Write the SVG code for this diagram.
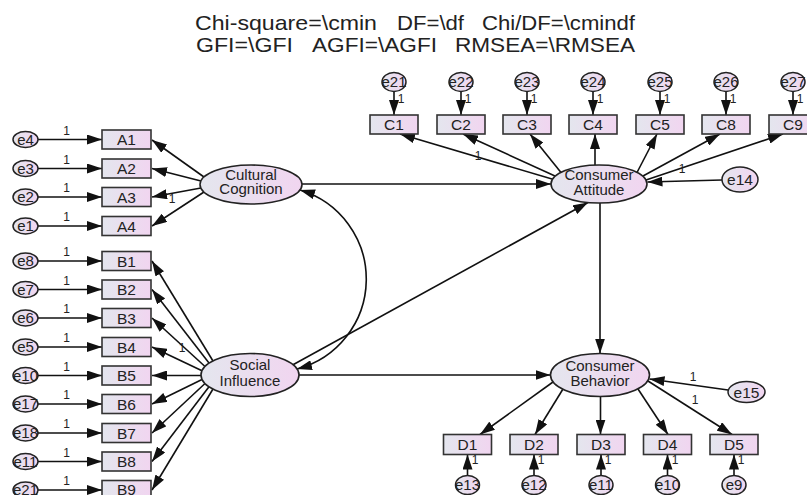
<svg xmlns="http://www.w3.org/2000/svg" width="807" height="495" viewBox="0 0 807 495">
<defs>
<linearGradient id="g" x1="0" y1="0" x2="1" y2="0">
<stop offset="0" stop-color="#e4e6ee"/>
<stop offset="1" stop-color="#f1d5f0"/>
</linearGradient>
<marker id="ah" markerUnits="userSpaceOnUse" markerWidth="15" markerHeight="10" viewBox="0 0 15 10" refX="15" refY="5" orient="auto-start-reverse">
<path d="M0,0 L15,5 L0,10 z" fill="#111"/>
</marker>
</defs>
<style>
text{font-family:"Liberation Sans",Arial,sans-serif;fill:#222}
.box{fill:url(#g);stroke:#333;stroke-width:1.6}
.lat{fill:url(#g);stroke:#222;stroke-width:1.6}
.err{fill:url(#g);stroke:#222;stroke-width:1.5}
.bt{font-size:15.5px;text-anchor:middle}
.lt{font-size:15px;text-anchor:middle}
.et{font-size:15px;text-anchor:middle}
.one{font-size:12px;text-anchor:middle}
.title{font-size:21px}
#connectors line,#connectors path{stroke:#111;stroke-width:1.6;fill:none;marker-end:url(#ah)}
</style>
<rect width="807" height="495" fill="#fff"/>
<g id="title">
<text class="title" x="195" y="30" textLength="182" lengthAdjust="spacingAndGlyphs">Chi-square=\cmin</text>
<text class="title" x="397" y="30" textLength="67" lengthAdjust="spacingAndGlyphs">DF=\df</text>
<text class="title" x="482" y="30" textLength="153" lengthAdjust="spacingAndGlyphs">Chi/DF=\cmindf</text>
<text class="title" x="196" y="52" textLength="97" lengthAdjust="spacingAndGlyphs">GFI=\GFI</text>
<text class="title" x="312" y="52" textLength="125" lengthAdjust="spacingAndGlyphs">AGFI=\AGFI</text>
<text class="title" x="455" y="52" textLength="180" lengthAdjust="spacingAndGlyphs">RMSEA=\RMSEA</text>
</g>
<g id="connectors">
<line x1="38" y1="139.5" x2="102" y2="139.5"/>
<line x1="38" y1="168.5" x2="102" y2="168.5"/>
<line x1="38" y1="197" x2="102" y2="197"/>
<line x1="38" y1="226" x2="102" y2="226"/>
<line x1="38" y1="261" x2="102" y2="261"/>
<line x1="38" y1="289.5" x2="102" y2="289.5"/>
<line x1="38" y1="318" x2="102" y2="318"/>
<line x1="38" y1="347" x2="102" y2="347"/>
<line x1="38" y1="375.5" x2="102" y2="375.5"/>
<line x1="38" y1="404" x2="102" y2="404"/>
<line x1="38" y1="433" x2="102" y2="433"/>
<line x1="38" y1="461.5" x2="102" y2="461.5"/>
<line x1="38" y1="490" x2="102" y2="490"/>
<line x1="204" y1="177" x2="152" y2="140"/>
<line x1="201" y1="181" x2="152" y2="168.5"/>
<line x1="201" y1="188" x2="152" y2="197"/>
<line x1="204" y1="192" x2="152" y2="226"/>
<line x1="213" y1="361" x2="152" y2="261"/>
<line x1="209" y1="363" x2="152" y2="289.5"/>
<line x1="205" y1="366.5" x2="152" y2="318"/>
<line x1="202" y1="370.7" x2="152" y2="347"/>
<line x1="201" y1="375.5" x2="152" y2="375.5"/>
<line x1="202" y1="379.5" x2="152" y2="404"/>
<line x1="205" y1="383.5" x2="152" y2="433"/>
<line x1="209" y1="386.8" x2="152" y2="461.5"/>
<line x1="213" y1="389" x2="152" y2="490"/>
<line x1="302" y1="184" x2="551" y2="184"/>
<line x1="293" y1="364.7" x2="588" y2="202.5"/>
<line x1="299" y1="375" x2="550.5" y2="375"/>
<line x1="600" y1="203" x2="600" y2="353.5"/>
<path d="M300,190 A93,93 0 0 1 297,369" style="marker-start:url(#ah)"/>
<line x1="722" y1="180" x2="647.5" y2="182"/>
<line x1="728" y1="390" x2="649.5" y2="379"/>
<line x1="552" y1="179" x2="400" y2="134"/>
<line x1="555" y1="176" x2="463" y2="134"/>
<line x1="561" y1="172.5" x2="530" y2="134"/>
<line x1="595" y1="165" x2="595" y2="134"/>
<line x1="637" y1="172.5" x2="657" y2="134"/>
<line x1="643" y1="176" x2="720" y2="134"/>
<line x1="646" y1="180" x2="783" y2="134"/>
<line x1="394" y1="91.5" x2="394" y2="115"/>
<line x1="461" y1="91.5" x2="461" y2="115"/>
<line x1="527" y1="91.5" x2="527" y2="115"/>
<line x1="593" y1="91.5" x2="593" y2="115"/>
<line x1="660" y1="91.5" x2="660" y2="115"/>
<line x1="726" y1="91.5" x2="726" y2="115"/>
<line x1="793" y1="91.5" x2="793" y2="115"/>
<line x1="553" y1="382" x2="480" y2="434.5"/>
<line x1="563" y1="389" x2="535" y2="434.5"/>
<line x1="600.5" y1="396.5" x2="600.5" y2="434.5"/>
<line x1="638" y1="389" x2="668" y2="434.5"/>
<line x1="648" y1="381" x2="732" y2="434.5"/>
<line x1="467.5" y1="475.5" x2="467.5" y2="454.5"/>
<line x1="534" y1="475.5" x2="534" y2="454.5"/>
<line x1="601" y1="475.5" x2="601" y2="454.5"/>
<line x1="667.5" y1="475.5" x2="667.5" y2="454.5"/>
<line x1="734" y1="475.5" x2="734" y2="454.5"/>
</g>
<g id="labels-1">
<text class="one" x="66.5" y="134.5">1</text>
<text class="one" x="66.5" y="163.5">1</text>
<text class="one" x="66.5" y="192">1</text>
<text class="one" x="66.5" y="221">1</text>
<text class="one" x="66.5" y="256">1</text>
<text class="one" x="66.5" y="284.5">1</text>
<text class="one" x="66.5" y="313">1</text>
<text class="one" x="66.5" y="342">1</text>
<text class="one" x="66.5" y="370.5">1</text>
<text class="one" x="66.5" y="399">1</text>
<text class="one" x="66.5" y="428">1</text>
<text class="one" x="66.5" y="456.5">1</text>
<text class="one" x="66.5" y="485">1</text>
<text class="one" x="172" y="203">1</text>
<text class="one" x="182" y="352">1</text>
<text class="one" x="478" y="160">1</text>
<text class="one" x="682" y="173">1</text>
<text class="one" x="401" y="103">1</text>
<text class="one" x="468" y="103">1</text>
<text class="one" x="534" y="103">1</text>
<text class="one" x="600" y="103">1</text>
<text class="one" x="667" y="103">1</text>
<text class="one" x="733" y="103">1</text>
<text class="one" x="800" y="103">1</text>
<text class="one" x="475" y="464">1</text>
<text class="one" x="541" y="464">1</text>
<text class="one" x="608" y="464">1</text>
<text class="one" x="675" y="464">1</text>
<text class="one" x="741" y="464">1</text>
<text class="one" x="693" y="381">1</text>
<text class="one" x="695" y="404">1</text>
</g>
<g id="CulturalCognition"><ellipse class="lat" cx="251" cy="184.5" rx="51" ry="19.5"/><text class="lt" x="251" y="179.5">Cultural</text><text class="lt" x="251" y="194">Cognition</text></g>
<g id="SocialInfluence"><ellipse class="lat" cx="250" cy="375" rx="49" ry="21.5"/><text class="lt" x="250" y="370">Social</text><text class="lt" x="250" y="385.5">Influence</text></g>
<g id="ConsumerAttitude"><ellipse class="lat" cx="599" cy="184" rx="48" ry="19"/><text class="lt" x="599" y="180">Consumer</text><text class="lt" x="599" y="195">Attitude</text></g>
<g id="ConsumerBehavior"><ellipse class="lat" cx="600" cy="375" rx="49.5" ry="21.5"/><text class="lt" x="600" y="370.5">Consumer</text><text class="lt" x="600" y="386">Behavior</text></g>
<g id="A1"><rect class="box" x="102" y="130" width="49" height="19"/><text class="bt" x="126.5" y="145">A1</text></g>
<g id="A2"><rect class="box" x="102" y="159" width="49" height="19"/><text class="bt" x="126.5" y="174">A2</text></g>
<g id="A3"><rect class="box" x="102" y="187.5" width="49" height="19"/><text class="bt" x="126.5" y="202.5">A3</text></g>
<g id="A4"><rect class="box" x="102" y="216.5" width="49" height="19"/><text class="bt" x="126.5" y="231.5">A4</text></g>
<g id="B1"><rect class="box" x="102" y="251.5" width="49" height="19"/><text class="bt" x="126.5" y="266.5">B1</text></g>
<g id="B2"><rect class="box" x="102" y="280" width="49" height="19"/><text class="bt" x="126.5" y="295">B2</text></g>
<g id="B3"><rect class="box" x="102" y="308.5" width="49" height="19"/><text class="bt" x="126.5" y="323.5">B3</text></g>
<g id="B4"><rect class="box" x="102" y="337.5" width="49" height="19"/><text class="bt" x="126.5" y="352.5">B4</text></g>
<g id="B5"><rect class="box" x="102" y="366" width="49" height="19"/><text class="bt" x="126.5" y="381">B5</text></g>
<g id="B6"><rect class="box" x="102" y="394.5" width="49" height="19"/><text class="bt" x="126.5" y="409.5">B6</text></g>
<g id="B7"><rect class="box" x="102" y="423.5" width="49" height="19"/><text class="bt" x="126.5" y="438.5">B7</text></g>
<g id="B8"><rect class="box" x="102" y="452" width="49" height="19"/><text class="bt" x="126.5" y="467">B8</text></g>
<g id="B9"><rect class="box" x="102" y="480.5" width="49" height="19"/><text class="bt" x="126.5" y="495">B9</text></g>
<g id="e4"><ellipse class="err" cx="25.5" cy="139.5" rx="12.5" ry="8"/><text class="et" x="25.5" y="144.5">e4</text></g>
<g id="e3"><ellipse class="err" cx="25.5" cy="168.5" rx="12.5" ry="8"/><text class="et" x="25.5" y="173.5">e3</text></g>
<g id="e2"><ellipse class="err" cx="25.5" cy="197" rx="12.5" ry="8"/><text class="et" x="25.5" y="202">e2</text></g>
<g id="e1"><ellipse class="err" cx="25.5" cy="226" rx="12.5" ry="8"/><text class="et" x="25.5" y="231">e1</text></g>
<g id="e8"><ellipse class="err" cx="25.5" cy="261" rx="12.5" ry="8"/><text class="et" x="25.5" y="266">e8</text></g>
<g id="e7"><ellipse class="err" cx="25.5" cy="289.5" rx="12.5" ry="8"/><text class="et" x="25.5" y="294.5">e7</text></g>
<g id="e6"><ellipse class="err" cx="25.5" cy="318" rx="12.5" ry="8"/><text class="et" x="25.5" y="323">e6</text></g>
<g id="e5"><ellipse class="err" cx="25.5" cy="347" rx="12.5" ry="8"/><text class="et" x="25.5" y="352">e5</text></g>
<g id="e10b"><ellipse class="err" cx="25.5" cy="375.5" rx="12.5" ry="8"/><text class="et" x="25.5" y="380.5">e10</text></g>
<g id="e17"><ellipse class="err" cx="25.5" cy="404" rx="12.5" ry="8"/><text class="et" x="25.5" y="409">e17</text></g>
<g id="e18"><ellipse class="err" cx="25.5" cy="433" rx="12.5" ry="8"/><text class="et" x="25.5" y="438">e18</text></g>
<g id="e11b"><ellipse class="err" cx="25.5" cy="461.5" rx="12.5" ry="8"/><text class="et" x="25.5" y="466.5">e11</text></g>
<g id="e21b"><ellipse class="err" cx="25.5" cy="490" rx="12.5" ry="8"/><text class="et" x="25.5" y="495">e21</text></g>
<g id="C1"><rect class="box" x="370" y="115" width="48" height="19"/><text class="bt" x="394" y="130">C1</text></g>
<g id="C2"><rect class="box" x="437" y="115" width="48" height="19"/><text class="bt" x="461" y="130">C2</text></g>
<g id="C3"><rect class="box" x="503" y="115" width="48" height="19"/><text class="bt" x="527" y="130">C3</text></g>
<g id="C4"><rect class="box" x="569" y="115" width="48" height="19"/><text class="bt" x="593" y="130">C4</text></g>
<g id="C5"><rect class="box" x="636" y="115" width="48" height="19"/><text class="bt" x="660" y="130">C5</text></g>
<g id="C8"><rect class="box" x="702" y="115" width="48" height="19"/><text class="bt" x="726" y="130">C8</text></g>
<g id="C9"><rect class="box" x="769" y="115" width="48" height="19"/><text class="bt" x="793" y="130">C9</text></g>
<g id="e21"><ellipse class="err" cx="394" cy="82" rx="12" ry="9.5"/><text class="et" x="394" y="87">e21</text></g>
<g id="e22"><ellipse class="err" cx="461" cy="82" rx="12" ry="9.5"/><text class="et" x="461" y="87">e22</text></g>
<g id="e23"><ellipse class="err" cx="527" cy="82" rx="12" ry="9.5"/><text class="et" x="527" y="87">e23</text></g>
<g id="e24"><ellipse class="err" cx="593" cy="82" rx="12" ry="9.5"/><text class="et" x="593" y="87">e24</text></g>
<g id="e25"><ellipse class="err" cx="660" cy="82" rx="12" ry="9.5"/><text class="et" x="660" y="87">e25</text></g>
<g id="e26"><ellipse class="err" cx="726" cy="82" rx="12" ry="9.5"/><text class="et" x="726" y="87">e26</text></g>
<g id="e27"><ellipse class="err" cx="793" cy="82" rx="12" ry="9.5"/><text class="et" x="793" y="87">e27</text></g>
<g id="e14"><ellipse class="err" cx="740" cy="179.5" rx="18" ry="12.5"/><text class="et" x="740" y="185" style="font-size:15.5px">e14</text></g>
<g id="e15"><ellipse class="err" cx="746.5" cy="392" rx="18.5" ry="10.5"/><text class="et" x="746.5" y="397.5" style="font-size:15.5px">e15</text></g>
<g id="D1"><rect class="box" x="443.5" y="434.5" width="48" height="20"/><text class="bt" x="467.5" y="450">D1</text></g>
<g id="D2"><rect class="box" x="510" y="434.5" width="48" height="20"/><text class="bt" x="534" y="450">D2</text></g>
<g id="D3"><rect class="box" x="577" y="434.5" width="48" height="20"/><text class="bt" x="601" y="450">D3</text></g>
<g id="D4"><rect class="box" x="643.5" y="434.5" width="48" height="20"/><text class="bt" x="667.5" y="450">D4</text></g>
<g id="D5"><rect class="box" x="710" y="434.5" width="48" height="20"/><text class="bt" x="734" y="450">D5</text></g>
<g id="e13"><ellipse class="err" cx="467.5" cy="485" rx="12" ry="9.5"/><text class="et" x="467.5" y="490">e13</text></g>
<g id="e12"><ellipse class="err" cx="534" cy="485" rx="12" ry="9.5"/><text class="et" x="534" y="490">e12</text></g>
<g id="e11"><ellipse class="err" cx="601" cy="485" rx="12" ry="9.5"/><text class="et" x="601" y="490">e11</text></g>
<g id="e10"><ellipse class="err" cx="667.5" cy="485" rx="12" ry="9.5"/><text class="et" x="667.5" y="490">e10</text></g>
<g id="e9"><ellipse class="err" cx="734" cy="485" rx="12" ry="9.5"/><text class="et" x="734" y="490">e9</text></g>
</svg>
